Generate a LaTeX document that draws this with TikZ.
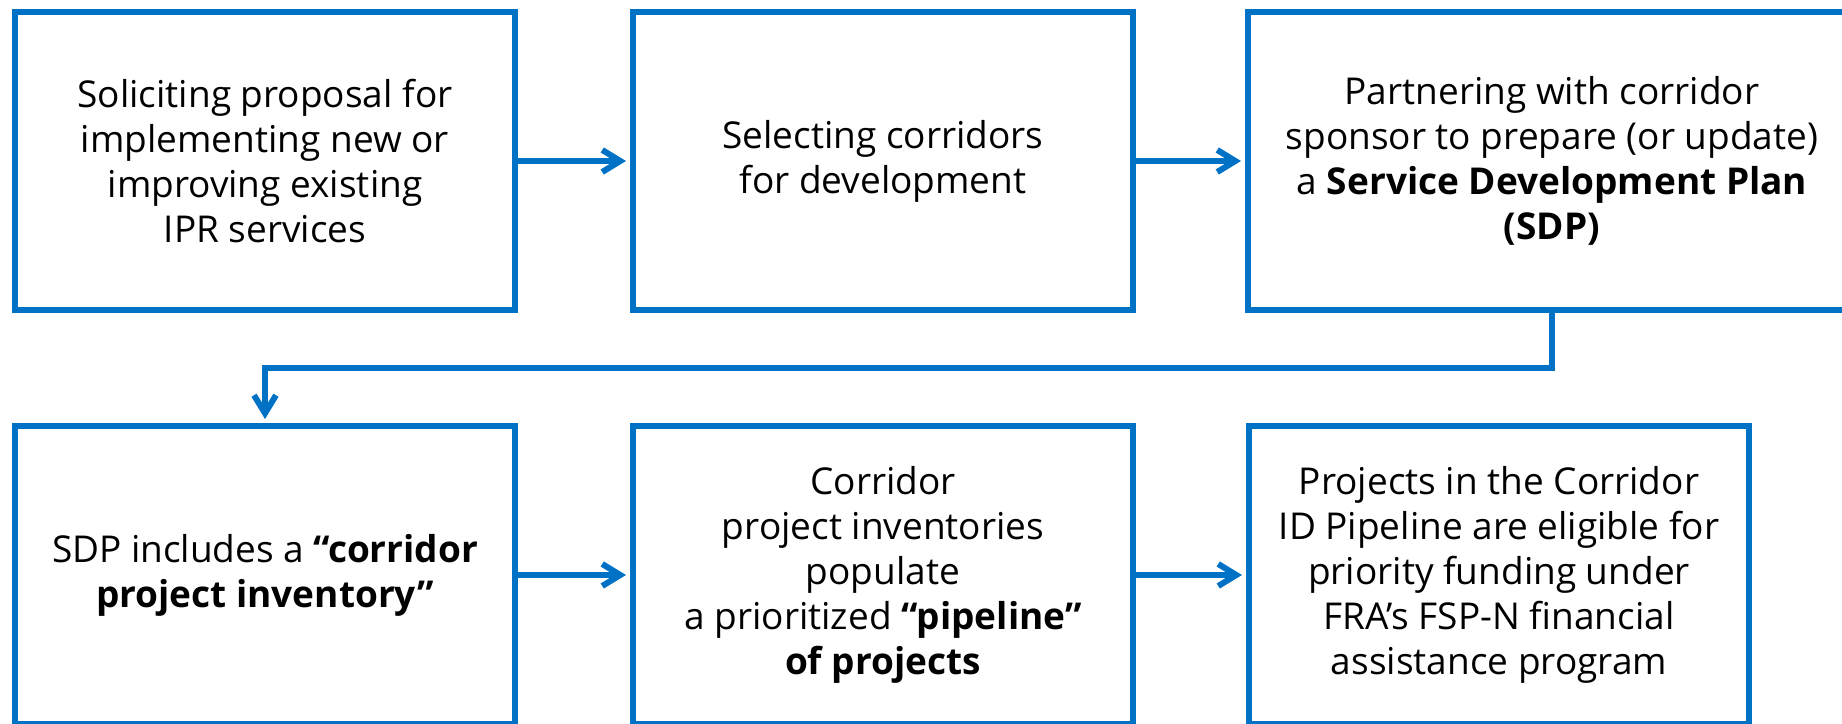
\documentclass[tikz,border=0pt]{standalone}
\usepackage{fontspec}
\setmainfont{Open Sans}
\usetikzlibrary{arrows.meta}
\definecolor{flowblue}{RGB}{0,114,198}
\tikzset{
  stepbox/.style={draw=flowblue, line width=3pt, rectangle, fill=white,
    minimum height=149pt, align=center, inner sep=0pt,
    font=\fontsize{18.5pt}{22.5pt}\selectfont},
  flowarrow/.style={draw=flowblue, line width=3pt,
    -{Straight Barb[length=9pt,width=11pt,line width=3pt]}, shorten >=2pt}
}
\begin{document}
\begin{tikzpicture}[x=0.5pt,y=0.5pt]
\useasboundingbox (0,0) rectangle (1842,723);
\clip (0,0) rectangle (1842,723);
\node[stepbox, minimum width=250pt] (b1) at (265,562) {Soliciting proposal for\\implementing new or\\improving existing\\IPR services};
\node[stepbox, minimum width=250pt] (b2) at (883,562) {Selecting corridors\\for development};
\node[stepbox, minimum width=304pt] (b3) at (1552,562) {Partnering with corridor\\sponsor to prepare (or update)\\a \textbf{Service Development Plan}\\\textbf{(SDP)}};
\node[stepbox, minimum width=250pt] (b4) at (265,148) {SDP includes a \textbf{“corridor}\\\textbf{project inventory”}};
\node[stepbox, minimum width=250pt] (b5) at (883,148) {Corridor\\project inventories\\populate\\a prioritized \textbf{“pipeline”}\\\textbf{of projects}};
\node[stepbox, minimum width=250pt] (b6) at (1499,148) {Projects in the Corridor\\ID Pipeline are eligible for\\priority funding under\\FRA’s FSP-N financial\\assistance program};
\coordinate (turn) at (1552,355);
\draw[flowarrow] (b1.east) -- (b2.west);
\draw[flowarrow] (b2.east) -- (b3.west);
\draw[flowarrow] (b4.east) -- (b5.west);
\draw[flowarrow] (b5.east) -- (b6.west);
\draw[flowarrow] (b3.south) |- (turn) -| (b4.north);
\end{tikzpicture}
\end{document}
